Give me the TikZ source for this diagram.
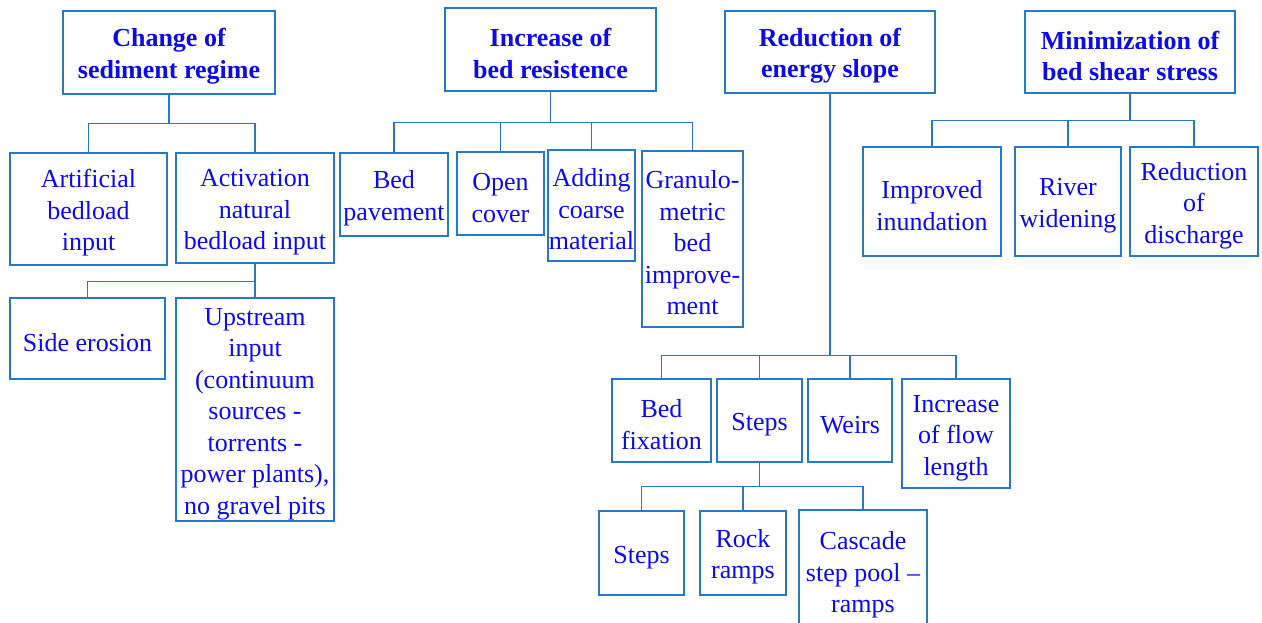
\documentclass[tikz,border=0pt]{standalone}
\usepackage{fontspec}
\setmainfont{Liberation Serif}
\definecolor{boxblue}{RGB}{40,120,200}
\definecolor{txtblue}{RGB}{10,10,235}
\newcommand{\toprule}{\rule{0pt}{26pt}}
\tikzset{
    box/.style={draw=boxblue, line width=1.1pt, text=txtblue, align=center, inner sep=0pt, font=\fontsize{26}{31.5}\selectfont},
    head/.style={box, font=\fontsize{26}{31.5}\selectfont\bfseries},
    link/.style={draw=boxblue, line width=1.1pt},
}
\begin{document}
\begin{tikzpicture}[x=1pt, y=-1pt]
    \useasboundingbox (0,0) rectangle (1262,623);

    % Headings
    \node[head, minimum width=212, minimum height=83] (sed) at (169,52.5) {\toprule Change of\\sediment regime};
    \node[head, minimum width=211, minimum height=83] (res) at (550.5,49.5) {\toprule Increase of\\bed resistence};
    \node[head, minimum width=210, minimum height=82] (slope) at (830,52) {\toprule Reduction of\\energy slope};
    \node[head, minimum width=210, minimum height=82] (shear) at (1130,52) {\toprule Minimization of\\bed shear stress};

    % Sediment regime
    \node[box, minimum width=157, minimum height=112] (art) at (88.5,209) {\toprule Artificial\\bedload\\input};
    \node[box, minimum width=158, minimum height=110] (act) at (255,208) {\toprule Activation\\natural\\bedload input};
    \node[box, minimum width=155, minimum height=81] (side) at (87.5,338.5) {\toprule Side erosion};
    \node[box, minimum width=158, minimum height=223] (up) at (255,409.5) {\toprule Upstream\\input\\(continuum\\sources -\\torrents -\\power plants),\\no gravel pits};

    % Bed resistence
    \node[box, minimum width=108, minimum height=83] (pave) at (394,194.5) {\toprule Bed\\pavement};
    \node[box, minimum width=87, minimum height=83] (cover) at (500.5,193.5) {\toprule Open\\cover};
    \node[box, minimum width=87, minimum height=111] (coarse) at (591.5,205.5) {\toprule Adding\\coarse\\material};
    \node[box, minimum width=101, minimum height=176] (granulo) at (692.5,239) {\toprule Granulo-\\metric\\bed\\improve-\\ment};

    % Energy slope
    \node[box, minimum width=99, minimum height=83] (fix) at (661.5,420.5) {\toprule Bed\\fixation};
    \node[box, minimum width=85, minimum height=83] (steps) at (759.5,420.5) {\toprule Steps};
    \node[box, minimum width=84, minimum height=83] (weirs) at (850,420.5) {\toprule Weirs};
    \node[box, minimum width=108, minimum height=109] (flow) at (956,433.5) {\toprule Increase\\of flow\\length};
    \node[box, minimum width=85, minimum height=84] (stepsb) at (641.5,553) {\toprule Steps};
    \node[box, minimum width=86, minimum height=84] (rock) at (743,553) {\toprule Rock\\ramps};
    \node[box, minimum width=128, minimum height=122] (cascade) at (863,571) {\toprule Cascade\\step pool –\\ramps};

    % Bed shear stress
    \node[box, minimum width=138, minimum height=109] (inund) at (932,201.5) {\toprule Improved\\inundation};
    \node[box, minimum width=106, minimum height=109] (widen) at (1068,201.5) {\toprule River\\widening};
    \node[box, minimum width=128, minimum height=109] (disch) at (1194,201.5) {\toprule Reduction\\of\\discharge};

    % Links
    \foreach \c in {art,act} \draw[link] (sed.south) -- ++(0,29) -| (\c.north);
    \foreach \c in {side,up} \draw[link] (act.south) -- ++(0,18) -| (\c.north);
    \foreach \c in {pave,cover,coarse,granulo} \draw[link] (res.south) -- ++(0,31) -| (\c.north);
    \draw[link, line width=1.8pt] (slope.south) -- ++(0,262);
    \foreach \c in {fix,steps,weirs,flow} \draw[link] (slope.south) ++(0,262) -| (\c.north);
    \foreach \c in {stepsb,rock,cascade} \draw[link] (steps.south) -- ++(0,24) -| (\c.north);
    \foreach \c in {inund,widen,disch} \draw[link] (shear.south) -- ++(0,27) -| (\c.north);
\end{tikzpicture}
\end{document}
